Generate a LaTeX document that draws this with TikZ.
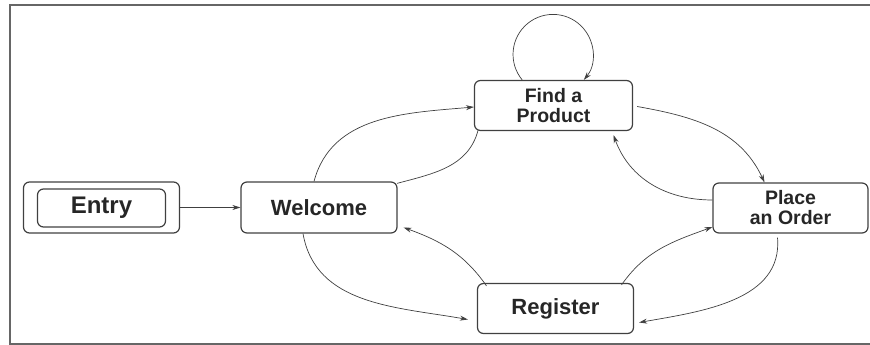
\documentclass[tikz,border=0pt]{standalone}
\usepackage{fontspec}
\setmainfont{Liberation Sans}
\usetikzlibrary{arrows.meta}
\begin{document}
\begin{tikzpicture}[x=1pt,y=1pt,
  state/.style={draw=black!75, line width=1.2pt, rounded corners=6pt,
    minimum width=156pt, minimum height=51pt, inner sep=0pt,
    text=black!85, font=\bfseries\fontsize{22}{24}\selectfont, align=center},
  twoline/.style={font=\bfseries\fontsize{19.5}{20}\selectfont},
  conn/.style={draw=black!75, line width=0.7pt, -{Stealth[length=8pt,width=5pt]}},
  plainline/.style={draw=black!75, line width=0.7pt}]
\useasboundingbox (0,0) rectangle (870,345);
\draw[black!60, line width=1.1pt] (10,1) rectangle (885,340);

\node[state] (entryO) at (101.5,137.5) {};
\node[state, minimum width=128pt, minimum height=38pt, font=\bfseries\fontsize{24}{26}\selectfont] (entryI) at (101.5,137) {Entry};
\node[state] (welcome) at (319,137.5) {Welcome};
\node[state, twoline, minimum width=158pt, minimum height=50pt] (find) at (553.5,239.5) {Find a\\Product};
\node[state, twoline, minimum width=155pt, minimum height=50pt] (place) at (790.5,137) {Place\\an Order};
\node[state, minimum height=50pt] (register) at (555.5,36.5) {Register};

\draw[conn] (entryO.east) -- (welcome.west);
\draw[conn] ([xshift=-5pt]welcome.north) to[out=75, in=185] ([yshift=-1.5pt]find.west);
\draw[plainline] ([xshift=-75.5pt,yshift=-25pt]find.center) to[out=-105, in=15] ([xshift=78pt,yshift=-2pt]welcome.north);
\draw[conn] ([xshift=4pt,yshift=-1pt]find.east) to[out=-10, in=115] ([xshift=-26pt]place.north);
\draw[conn] ([yshift=8pt]place.west) to[out=180, in=-70] ([xshift=60pt,yshift=-4pt]find.south);
\draw[conn] ([xshift=66pt,yshift=-2pt]register.north) to[out=55, in=200] ([yshift=-19pt]place.west);
\draw[conn] ([xshift=-13pt,yshift=-4pt]place.south) to[out=-85, in=10] ([xshift=5pt,yshift=-14pt]register.east);
\draw[conn] ([xshift=-69pt,yshift=-3pt]register.north) to[out=125, in=-20] ([xshift=6pt,yshift=-20pt]welcome.east);
\draw[conn] ([xshift=-16pt]welcome.south) to[out=-80, in=170] ([xshift=-9pt,yshift=-11pt]register.west);
\draw[conn] ([xshift=-31.3pt]find.north) arc[start angle=219.6, end angle=-39.6, radius=40pt];
\end{tikzpicture}
\end{document}
